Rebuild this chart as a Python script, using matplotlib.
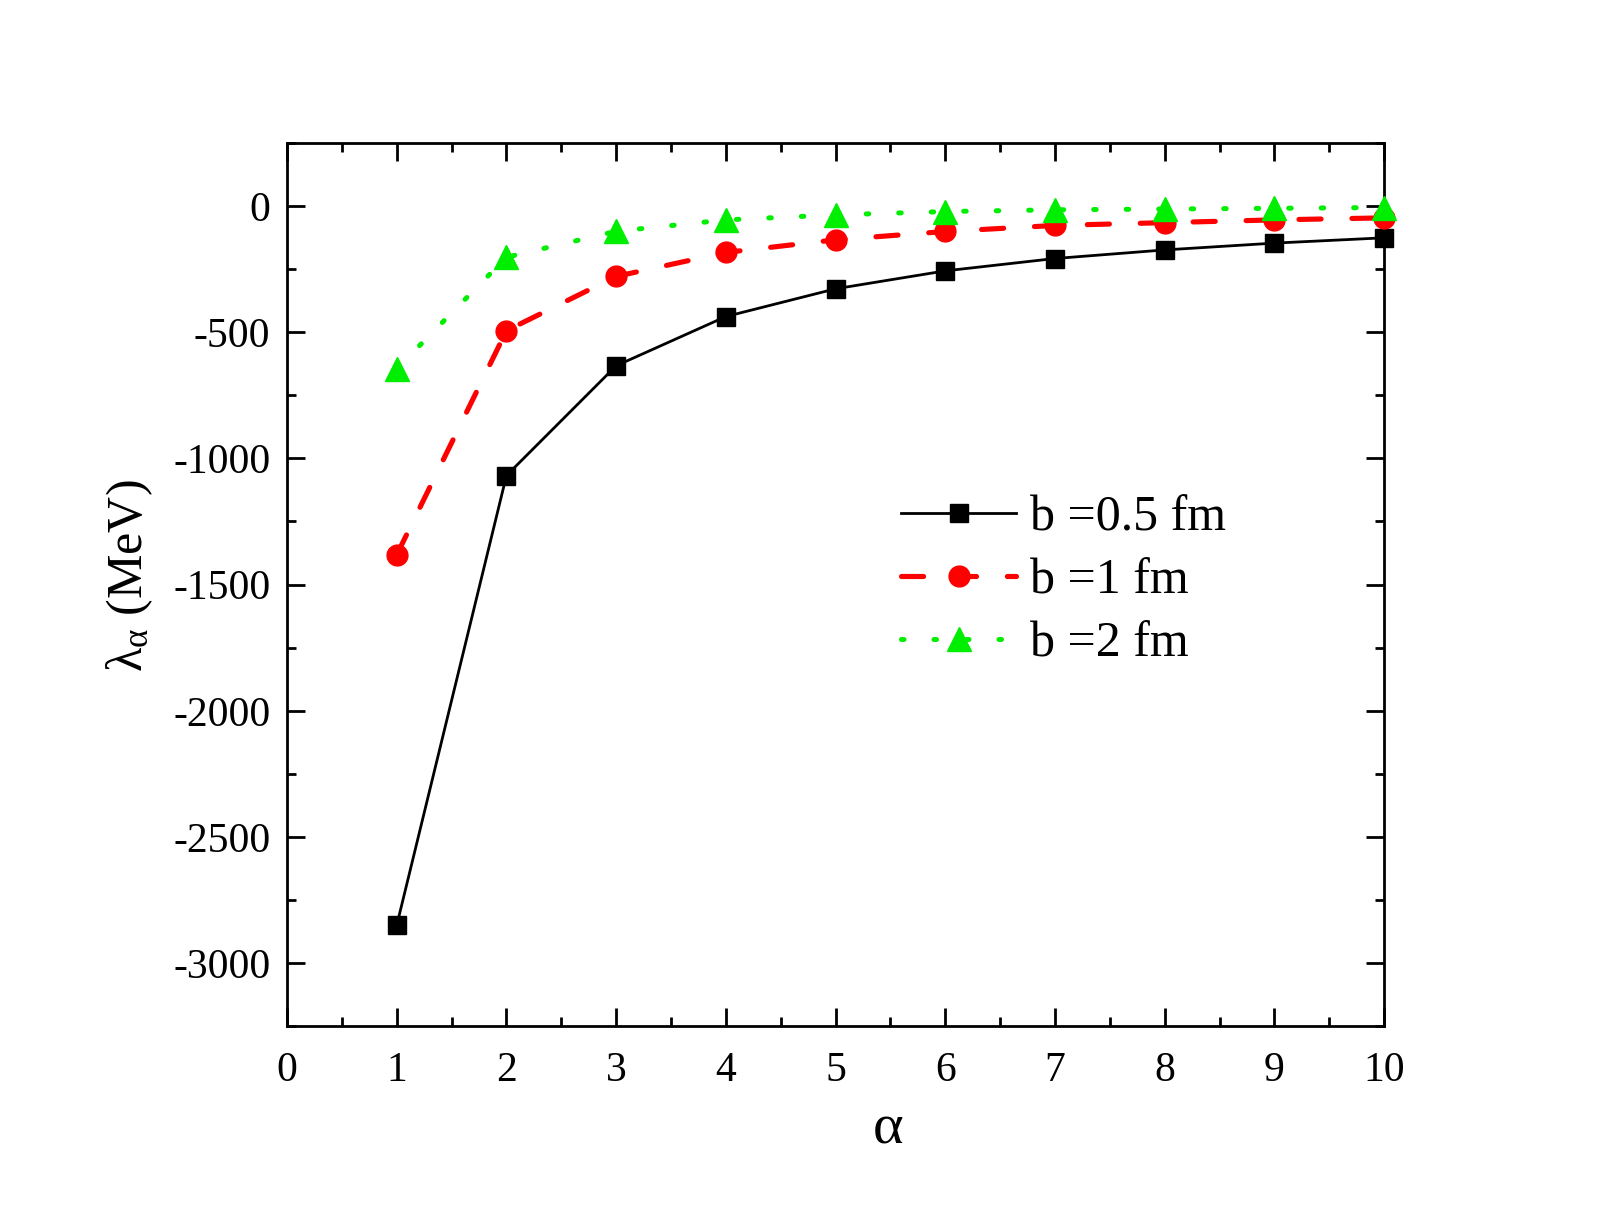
import numpy as np
import matplotlib
matplotlib.use('Agg')
import matplotlib.pyplot as plt
from matplotlib.ticker import MultipleLocator

plt.rcParams['font.family'] = ['Liberation Serif', 'DejaVu Serif']
plt.rcParams['mathtext.fontset'] = 'custom'
plt.rcParams['mathtext.rm'] = 'Liberation Serif'
plt.rcParams['mathtext.it'] = 'Liberation Serif'
plt.rcParams['axes.unicode_minus'] = False

# eigenvalues
alpha = [1, 2, 3, 4, 5, 6, 7, 8, 9, 10]
lam_b05 = [-2850, -1068, -633, -438, -328, -257, -208, -174, -147, -126]
lam_b1 = [-1382, -494, -279, -184, -134, -101, -77, -66, -55, -47]
lam_b2 = [-645, -203, -100, -55, -35, -22, -15, -12, -9, -6]
labels = ['b =0.5 fm', 'b =1 fm', 'b =2 fm']

fig = plt.figure(figsize=(16.09, 12.32), dpi=100)
ax = fig.add_axes([0.1784, 0.167, 0.6818, 0.717])

l1, = ax.plot(alpha, lam_b05, '-', color='k', lw=2.0, marker='s', ms=13,
              clip_on=False, zorder=3)
l2, = ax.plot(alpha, lam_b1, color='red', lw=3.7, marker='o', ms=15,
              dashes=(4.3, 6), dash_capstyle='round', clip_on=False, zorder=3)
l3, = ax.plot(alpha, lam_b2, color='#00ee00', lw=3.6, marker='^', ms=17,
              dashes=(0.5, 6), dash_capstyle='round', clip_on=False, zorder=3)

ax.set_xlim(0, 10)
ax.set_ylim(-3250, 250)
ax.xaxis.set_major_locator(MultipleLocator(1))
ax.xaxis.set_minor_locator(MultipleLocator(0.5))
ax.yaxis.set_major_locator(MultipleLocator(500))
ax.yaxis.set_minor_locator(MultipleLocator(250))
ax.tick_params(which='both', direction='in', top=True, right=True, width=2)
ax.tick_params(which='major', length=13, labelsize=30, pad=12)
ax.tick_params(axis='x', which='major', pad=18)
ax.tick_params(which='minor', length=6.5)
for s in ax.spines.values():
    s.set_linewidth(2)

ax.set_xlabel('α', fontsize=42)
ax.xaxis.set_label_coords(0.548, -0.088)
ax.set_ylabel(r'$\mathregular{\lambda_\alpha}$ (MeV)', fontsize=36)
ax.yaxis.set_label_coords(-0.120, 0.51)

ax.legend([l1, l2, l3], labels, loc='center left', bbox_to_anchor=(0.56, 0.504),
          frameon=False, fontsize=36, numpoints=1, handlelength=2.3,
          handletextpad=0.27, labelspacing=0.33, borderpad=0, borderaxespad=0)

fig.savefig('out.png', dpi=100)
